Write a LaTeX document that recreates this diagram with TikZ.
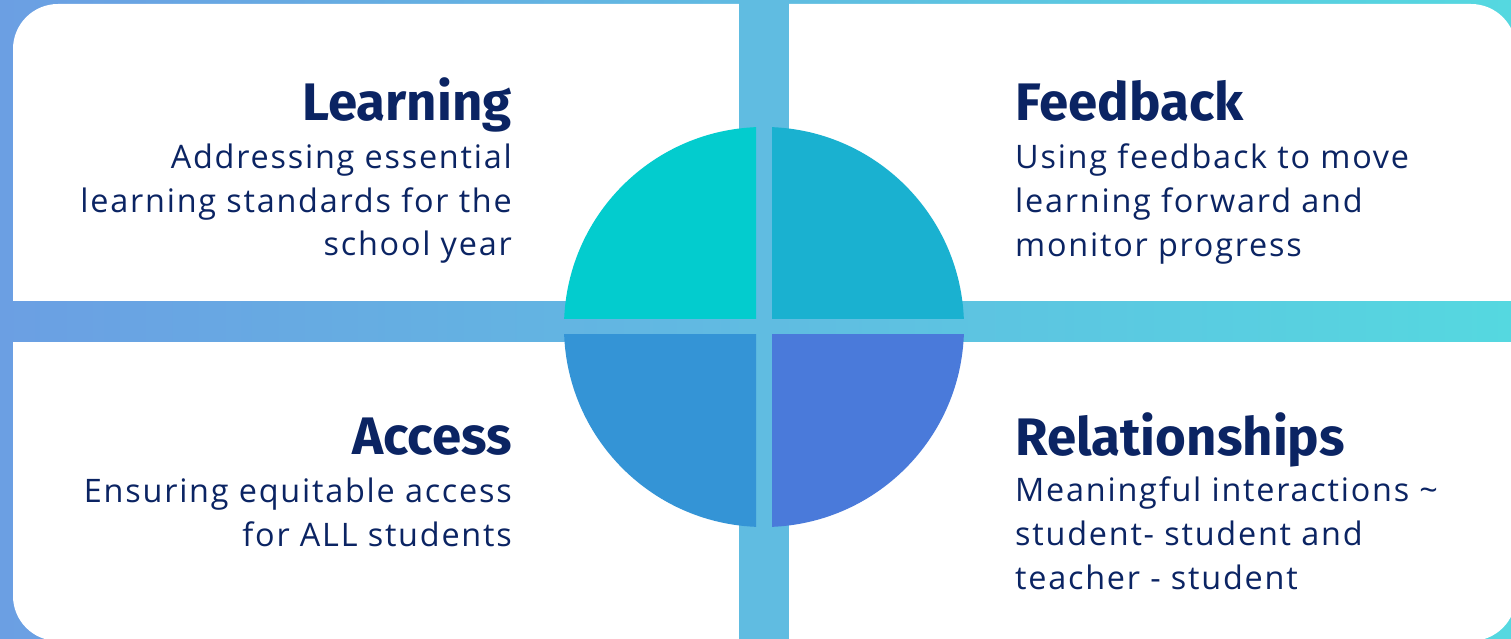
\documentclass[tikz,border=0pt]{standalone}
\usepackage{fontspec}
\setmainfont[LetterSpace=5.5]{Open Sans}
\newfontfamily\headfont{Fira Sans}
\usetikzlibrary{positioning}
\definecolor{navy}{HTML}{0B2463}
\definecolor{bgleft}{HTML}{6B9FE3}
\definecolor{bgright}{HTML}{55D8E0}
\definecolor{qlearn}{HTML}{03CCCE}
\definecolor{qfeed}{HTML}{1AB1D0}
\definecolor{qaccess}{HTML}{3494D6}
\definecolor{qrel}{HTML}{4A7ADA}
\tikzset{
  heading/.style={font=\headfont\bfseries\fontsize{53}{53}\selectfont, text=navy, inner sep=0pt},
  blurb/.style={font=\fontsize{32.5}{44}\selectfont, text=navy, inner sep=0pt},
}

\begin{document}
\begin{tikzpicture}[x=1bp,y=1bp]
\useasboundingbox (0,0) rectangle (1511,639);
\shade[left color=bgleft, right color=bgright] (0,0) rectangle (1511,639);
\fill[white, rounded corners=45bp] (13,-2) rectangle (1516,635);
% cross between the panels
\shade[left color=bgleft, right color=bgright] (0,297) rectangle (1511,337);
\fill[bgright!51!bgleft] (739,0) rectangle (789,639);
% quarters of the circle
\coordinate (hub) at (764,312);
\foreach \sx/\sy/\clr in {-1/1/qlearn, 1/1/qfeed, -1/-1/qaccess, 1/-1/qrel} {
  \begin{scope}
    \clip ([shift={(\sx*8,\sy*8)}]hub) rectangle ++(\sx*200,\sy*200);
    \fill[\clr] (hub) circle (200bp);
  \end{scope}
}
\node[heading, anchor=base east] (learning) at (512,518) {Learning};
\node[blurb, align=right, below=22.5bp of learning.base east, anchor=north east] (learningtext)
  {Addressing essential\\learning standards for the\\school year};
\node[heading, anchor=base west] (feedback) at (1015,518) {Feedback};
\node[blurb, align=left, below=22.5bp of feedback.base west, anchor=north west] (feedbacktext)
  {Using feedback to move\\learning forward and\\monitor progress};
\node[heading, anchor=base east] (access) at (512,184) {Access};
\node[blurb, align=right, below=22.5bp of access.base east, anchor=north east] (accesstext)
  {Ensuring equitable access\\for ALL students};
\node[heading, anchor=base west] (relations) at (1015,183) {Relationships};
\node[blurb, align=left, below=21bp of relations.base west, anchor=north west] (relationstext)
  {Meaningful interactions \textasciitilde\\student- student and\\teacher - student};
\end{tikzpicture}
\end{document}
